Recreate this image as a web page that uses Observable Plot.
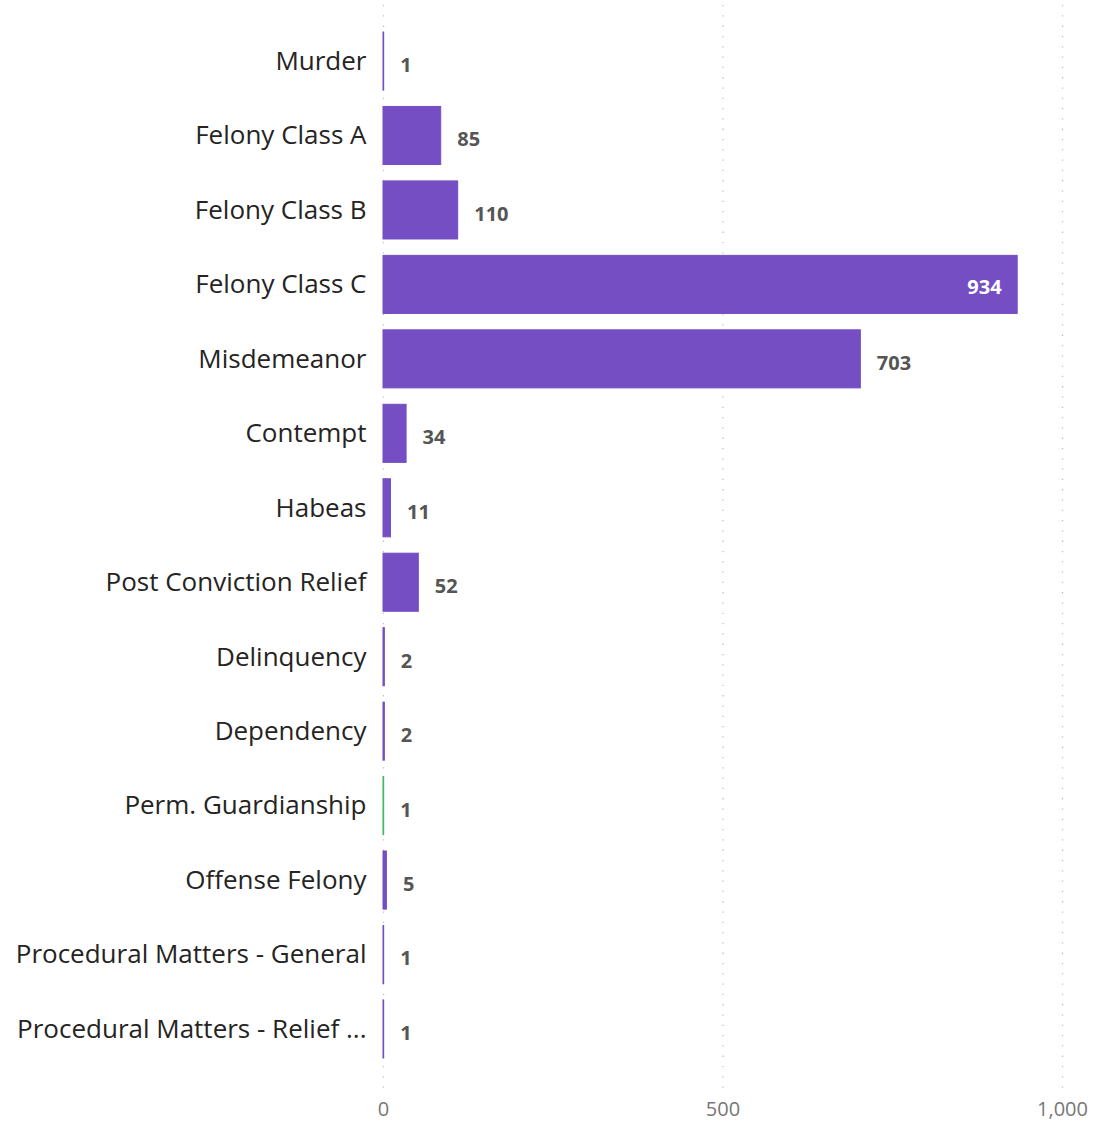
<!DOCTYPE html>
<html>
<head>
<meta charset="utf-8">
<script src="https://cdn.jsdelivr.net/npm/d3@7"></script>
<script src="https://cdn.jsdelivr.net/npm/@observablehq/plot@0.6"></script>
<style>
  html, body { margin: 0; padding: 0; background: #fff; }
  #chart { width: 1094px; height: 1121px; }
</style>
</head>
<body>
<div id="chart"></div>
<script>
const categories = [
  "Murder", "Felony Class A", "Felony Class B", "Felony Class C", "Misdemeanor",
  "Contempt", "Habeas", "Post Conviction Relief", "Delinquency", "Dependency",
  "Perm. Guardianship", "Offense Felony", "Procedural Matters - General",
  "Procedural Matters - Relief ..."
];
const counts = [1, 85, 110, 934, 703, 34, 11, 52, 2, 2, 1, 5, 1, 1];
const barColors = ["#744EC2","#744EC2","#744EC2","#744EC2","#744EC2","#744EC2","#744EC2",
  "#744EC2","#744EC2","#744EC2","#41B85E","#744EC2","#744EC2","#744EC2"];
const xTicks = [0, 500, 1000];

const data = categories.map((c, i) => ({cat: c, n: counts[i], color: barColors[i]}));
const outside = data.filter(d => d.n < 800);
const inside = data.filter(d => d.n >= 800);

const chart = Plot.plot({
  width: 1094,
  height: 1121,
  marginLeft: 383,
  marginRight: 32,
  marginTop: 5,
  marginBottom: 31,
  style: {fontFamily: "'Open Sans', sans-serif", background: "#fff"},
  x: {domain: [0, 1000], ticks: xTicks, tickFormat: d3.format(","), label: null},
  y: {domain: categories, paddingInner: 0.22, paddingOuter: 0, round: false, insetTop: 27, insetBottom: 32, label: null},
  marks: [
    Plot.ruleX(xTicks, {stroke: "#c0c0c0", strokeWidth: 1.3, strokeDasharray: "1.3,9"}),
    Plot.barX(data, {x: "n", y: "cat", fill: "color", stroke: "color", strokeWidth: 1}),
    Plot.text(outside, {x: "n", y: "cat", text: d => String(d.n), textAnchor: "start", dx: 16, dy: 4,
      fill: "#555", fontWeight: "bold", fontSize: 20}),
    Plot.text(inside, {x: "n", y: "cat", text: d => String(d.n), textAnchor: "end", dx: -16, dy: 3,
      fill: "#fff", fontWeight: "bold", fontSize: 20}),
    Plot.axisY({tickSize: 0, tickPadding: 17, fontSize: 26, fill: "#252423", label: null}),
    Plot.axisX({ticks: xTicks, tickSize: 0, tickPadding: 11, fontSize: 20, fill: "#777",
      tickFormat: d3.format(","), label: null})
  ]
});
document.getElementById("chart").appendChild(chart);
</script>
</body>
</html>
